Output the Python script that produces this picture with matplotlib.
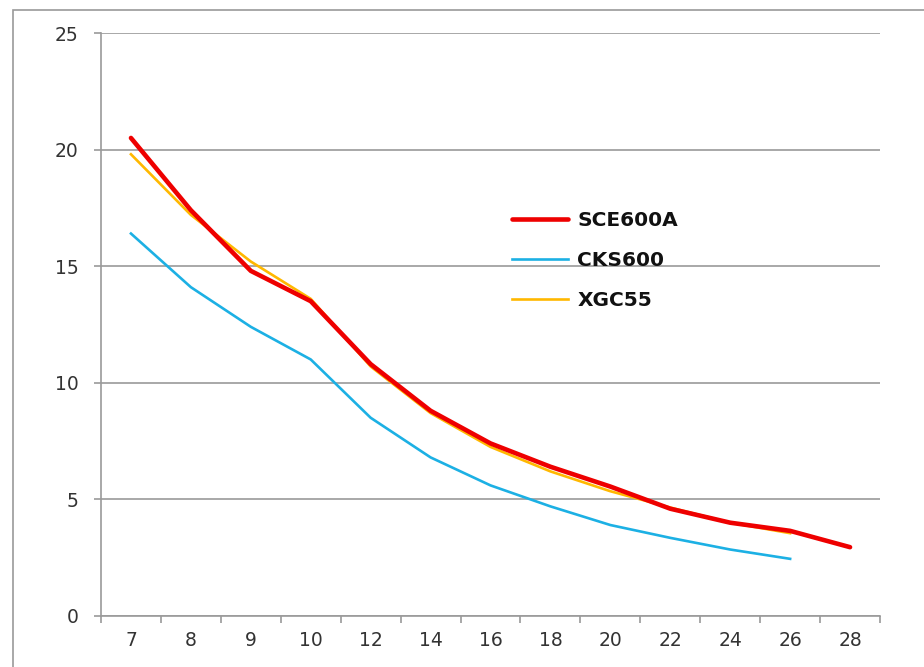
import matplotlib
matplotlib.use('Agg')
from matplotlib import pyplot as plt
from matplotlib.patches import Rectangle
import numpy as np

categories = ['7', '8', '9', '10', '12', '14', '16', '18', '20', '22', '24', '26', '28']
sce600a = [20.5, 17.4, 14.8, 13.5, 10.8, 8.8, 7.4, 6.4, 5.55, 4.6, 4.0, 3.65, 2.95]
cks600 = [16.4, 14.1, 12.4, 11.0, 8.5, 6.8, 5.6, 4.7, 3.9, 3.35, 2.85, 2.45]
xgc55 = [19.8, 17.2, 15.2, 13.6, 10.7, 8.7, 7.25, 6.2, 5.35, 4.65, 4.0, 3.55]

GRID = '#9a9a9a'
TEXT = '#333333'

plt.rcParams['font.family'] = ['DejaVu Sans']

fig = plt.figure(figsize=(9.24, 6.67), dpi=100)
ax = fig.add_axes([0.1093, 0.0765, 0.8431, 0.874])

x = np.arange(len(categories))
ax.plot(x[:len(sce600a)], sce600a, color='#ee0000', lw=3.3, label='SCE600A',
        solid_capstyle='round', zorder=4)
ax.plot(x[:len(cks600)], cks600, color='#1cb0e4', lw=1.9, label='CKS600', zorder=3)
ax.plot(x[:len(xgc55)], xgc55, color='#ffb800', lw=1.9, label='XGC55', zorder=3)

ax.set_xlim(-0.5, len(categories) - 0.5)
ax.set_ylim(0, 25)
ax.set_yticks([0, 5, 10, 15, 20, 25])
ax.set_xticks(x)
ax.set_xticklabels(categories)
ax.set_xticks(np.arange(-0.5, len(categories), 1.0), minor=True)

ax.grid(axis='y', color=GRID, lw=1.2)
ax.set_axisbelow(True)
for side in ['top', 'right']:
    ax.spines[side].set_visible(False)
for side in ['left', 'bottom']:
    ax.spines[side].set_color(GRID)
    ax.spines[side].set_linewidth(1.2)

ax.tick_params(axis='x', which='major', length=0, pad=11, labelsize=13.5, labelcolor=TEXT)
ax.tick_params(axis='x', which='minor', length=5, width=1.2, color=GRID)
ax.tick_params(axis='y', length=5, width=1.2, color=GRID, pad=11, labelsize=13.5, labelcolor=TEXT)

leg = ax.legend(loc='upper left', bbox_to_anchor=(0.504, 0.726), frameon=False,
                prop={'weight': 'bold', 'size': 14.5}, handlelength=2.8,
                handletextpad=0.45, labelspacing=1.05)
for t in leg.get_texts():
    t.set_color('#111111')

# outer chart frame (only top and left edges are inside the picture)
fig.patches.append(Rectangle((13 / 924, -0.1), 1.0, 1.1 - 9.5 / 667, fill=False,
                             edgecolor=GRID, lw=1.2, transform=fig.transFigure,
                             figure=fig))

fig.savefig('out.png', dpi=100)
